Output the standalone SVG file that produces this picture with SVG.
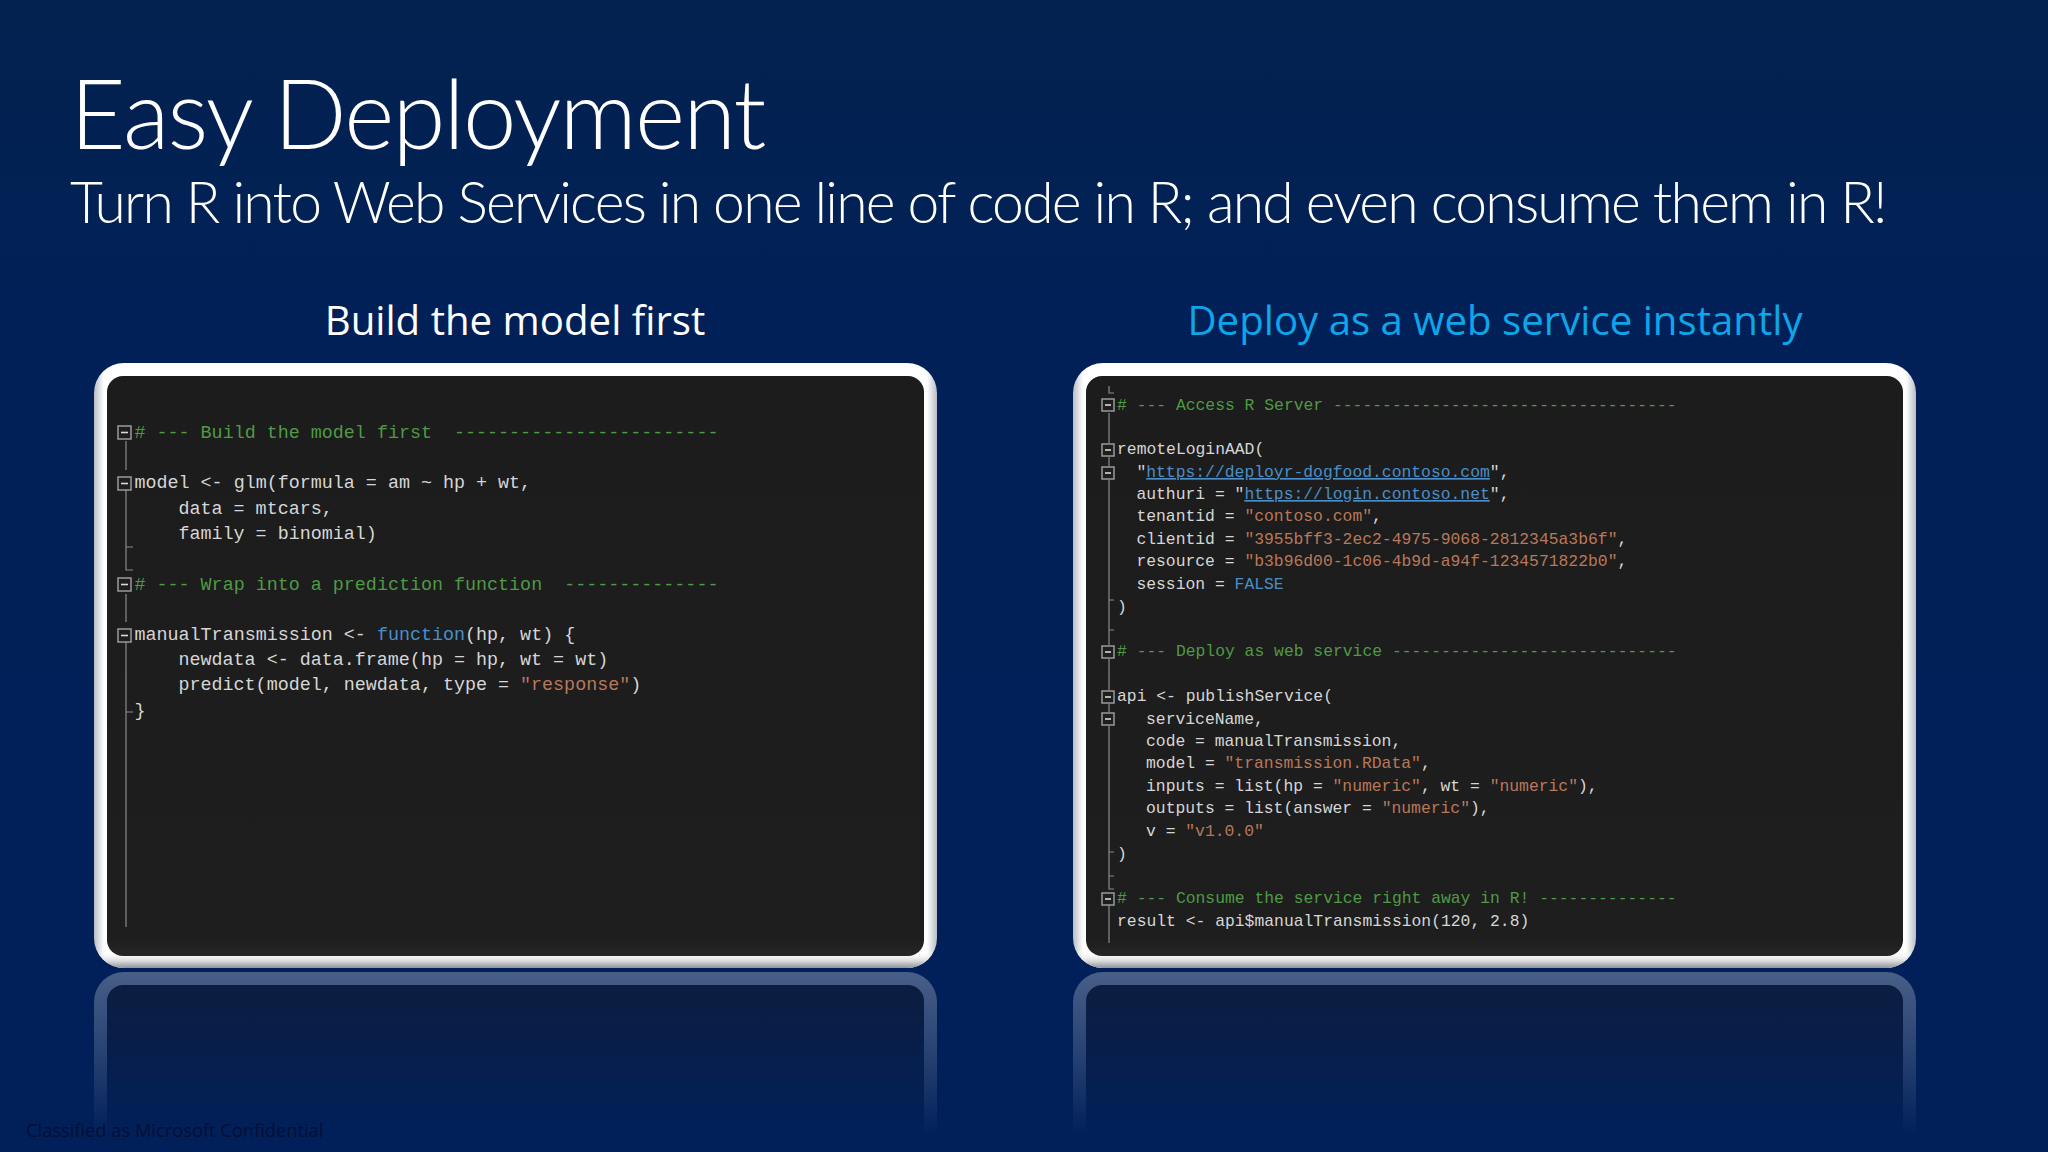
<svg xmlns="http://www.w3.org/2000/svg" width="2048" height="1152" viewBox="0 0 2048 1152">
<style>
.title{font-family:Lato,"Open Sans","Liberation Sans",sans-serif;font-weight:300;fill:#fff}
.head{font-family:"Open Sans","Liberation Sans",sans-serif;font-size:40.2px;text-anchor:middle}
.c{font-family:"Liberation Mono","DejaVu Sans Mono",monospace;fill:#d6d6d6;white-space:pre}
.l{font-size:18.37px}
.r{font-size:16.36px}
.g{fill:#4e9a45}.s{fill:#b9785a}.k{fill:#4a8fc9}.u{fill:#4a8fc9;text-decoration:underline}
.fold{fill:#1e1e1e;stroke:#9a9a9a;stroke-width:1.5}
.dash{stroke:#d8d8d8;stroke-width:1.6}
.gut{fill:none;stroke:#8a8a8a;stroke-width:1.2}
</style>
<defs>
<linearGradient id="bg" x1="0" y1="0" x2="0" y2="1"><stop offset="0" stop-color="#03224f"/><stop offset=".3" stop-color="#012058"/><stop offset="1" stop-color="#01205a"/></linearGradient>
<linearGradient id="frameL" x1="0" y1="0" x2="1" y2="0"><stop offset="0" stop-color="#b8bcc4"/><stop offset=".012" stop-color="#ffffff"/><stop offset=".988" stop-color="#ffffff"/><stop offset="1" stop-color="#b8bcc4"/></linearGradient>
<linearGradient id="frameB" x1="0" y1="0" x2="0" y2="1"><stop offset="0" stop-color="#fff" stop-opacity="0"/><stop offset=".972" stop-color="#fff" stop-opacity="0"/><stop offset=".988" stop-color="#dcdcdc"/><stop offset="1" stop-color="#8e9299"/></linearGradient>
<linearGradient id="panel" x1="0" y1="0" x2="0" y2="1"><stop offset="0" stop-color="#1c1c1c"/><stop offset=".97" stop-color="#1e1e1e"/><stop offset="1" stop-color="#262626"/></linearGradient>
<linearGradient id="refl" gradientUnits="userSpaceOnUse" x1="0" y1="972" x2="0" y2="1135"><stop offset="0" stop-color="#fff" stop-opacity=".28"/><stop offset=".5" stop-color="#fff" stop-opacity=".15"/><stop offset="1" stop-color="#fff" stop-opacity="0"/></linearGradient>
<linearGradient id="reflIn" gradientUnits="userSpaceOnUse" x1="0" y1="985" x2="0" y2="1135"><stop offset="0" stop-color="#0c1d40"/><stop offset="1" stop-color="#01205a"/></linearGradient>
</defs>
<rect width="2048" height="1152" fill="url(#bg)"/>
<text class="title" x="70" y="149" font-size="96" letter-spacing="-1.85">Easy Deployment</text>
<text class="title" x="70" y="223" font-size="57" letter-spacing="-1.75">Turn R into Web Services in one line of code in R; and even consume them in R!</text>
<text class="head" x="515" y="335" fill="#fff">Build the model first</text>
<text class="head" x="1495" y="335" fill="#0ea5e9">Deploy as a web service instantly</text>

<g id="left-panel">
<rect x="94" y="972" width="843" height="190" rx="30" fill="url(#refl)"/>
<rect x="107" y="985" width="817" height="167" rx="16" fill="url(#reflIn)"/>
<rect x="94" y="363" width="843" height="605" rx="30" fill="url(#frameL)"/>
<rect x="94" y="363" width="843" height="605" rx="30" fill="url(#frameB)"/>
<rect x="107" y="376" width="817" height="580" rx="16" fill="url(#panel)"/>
<path class="gut" d="M126 441V470M126 490V547H133M126 547V570H133M126 594V622M126 642V712H133M126 712V927"/>
<g>
<rect class="fold" x="118" y="426" width="13" height="13"/><path class="dash" d="M121 432.500h7"/>
<rect class="fold" x="118" y="477" width="13" height="13"/><path class="dash" d="M121 483.500h7"/>
<rect class="fold" x="118" y="578" width="13" height="13"/><path class="dash" d="M121 584.500h7"/>
<rect class="fold" x="118" y="629" width="13" height="13"/><path class="dash" d="M121 635.500h7"/>
</g>
<text class="c l" x="134.500" y="438"><tspan class="g"># --- Build the model first  ------------------------</tspan></text>
<text class="c l" x="134.500" y="488">model &lt;- glm(formula = am ~ hp + wt,</text>
<text class="c l" x="178.500" y="514">data = mtcars,</text>
<text class="c l" x="178.500" y="539">family = binomial)</text>
<text class="c l" x="134.500" y="590"><tspan class="g"># --- Wrap into a prediction function  --------------</tspan></text>
<text class="c l" x="134.500" y="640">manualTransmission &lt;- <tspan class="k">function</tspan>(hp, wt) {</text>
<text class="c l" x="178.500" y="665">newdata &lt;- data.frame(hp = hp, wt = wt)</text>
<text class="c l" x="178.500" y="690">predict(model, newdata, type = <tspan class="s">"response"</tspan>)</text>
<text class="c l" x="134.500" y="716">}</text>
</g>

<g id="right-panel">
<rect x="1073" y="972" width="843" height="190" rx="30" fill="url(#refl)"/>
<rect x="1086" y="985" width="817" height="167" rx="16" fill="url(#reflIn)"/>
<rect x="1073" y="363" width="843" height="605" rx="30" fill="url(#frameL)"/>
<rect x="1073" y="363" width="843" height="605" rx="30" fill="url(#frameB)"/>
<rect x="1086" y="376" width="817" height="580" rx="16" fill="url(#panel)"/>
<path class="gut" d="M1109 386V393H1114M1109 413V443M1109 457V466M1109 480V645M1109 600H1114M1109 630H1114M1109 659V690M1109 704V712M1109 726V852H1114M1109 852V876H1114M1109 876V889H1114M1109 905V943"/>
<g>
<rect class="fold" x="1102" y="399" width="12" height="12"/><path class="dash" d="M1105 405h6"/>
<rect class="fold" x="1102" y="444" width="12" height="12"/><path class="dash" d="M1105 450h6"/>
<rect class="fold" x="1102" y="467" width="12" height="12"/><path class="dash" d="M1105 473h6"/>
<rect class="fold" x="1102" y="646" width="12" height="12"/><path class="dash" d="M1105 652h6"/>
<rect class="fold" x="1102" y="691" width="12" height="12"/><path class="dash" d="M1105 697h6"/>
<rect class="fold" x="1102" y="713" width="12" height="12"/><path class="dash" d="M1105 719h6"/>
<rect class="fold" x="1102" y="893" width="12" height="12"/><path class="dash" d="M1105 899h6"/>
</g>
<text class="c r" x="1117" y="410"><tspan class="g"># --- Access R Server -----------------------------------</tspan></text>
<text class="c r" x="1117" y="454">remoteLoginAAD(</text>
<text class="c r" x="1136.400" y="477">"<tspan class="u">https://deployr-dogfood.contoso.com</tspan>",</text>
<text class="c r" x="1136.400" y="499">authuri = "<tspan class="u">https://login.contoso.net</tspan>",</text>
<text class="c r" x="1136.400" y="521">tenantid = <tspan class="s">"contoso.com"</tspan>,</text>
<text class="c r" x="1136.400" y="544">clientid = <tspan class="s">"3955bff3-2ec2-4975-9068-2812345a3b6f"</tspan>,</text>
<text class="c r" x="1136.400" y="566">resource = <tspan class="s">"b3b96d00-1c06-4b9d-a94f-1234571822b0"</tspan>,</text>
<text class="c r" x="1136.400" y="589">session = <tspan class="k">FALSE</tspan></text>
<text class="c r" x="1117" y="612">)</text>
<text class="c r" x="1117" y="656"><tspan class="g"># --- Deploy as web service -----------------------------</tspan></text>
<text class="c r" x="1117" y="701">api &lt;- publishService(</text>
<text class="c r" x="1146" y="724">serviceName,</text>
<text class="c r" x="1146" y="746">code = manualTransmission,</text>
<text class="c r" x="1146" y="768">model = <tspan class="s">"transmission.RData"</tspan>,</text>
<text class="c r" x="1146" y="791">inputs = list(hp = <tspan class="s">"numeric"</tspan>, wt = <tspan class="s">"numeric"</tspan>),</text>
<text class="c r" x="1146" y="813">outputs = list(answer = <tspan class="s">"numeric"</tspan>),</text>
<text class="c r" x="1146" y="836">v = <tspan class="s">"v1.0.0"</tspan></text>
<text class="c r" x="1117" y="859">)</text>
<text class="c r" x="1117" y="903"><tspan class="g"># --- Consume the service right away in R! --------------</tspan></text>
<text class="c r" x="1117" y="926">result &lt;- api$manualTransmission(120, 2.8)</text>
</g>
<text x="26" y="1137" font-family="'Open Sans','Liberation Sans',sans-serif" font-size="18.300" fill="#020f35">Classified as Microsoft Confidential</text>
</svg>
